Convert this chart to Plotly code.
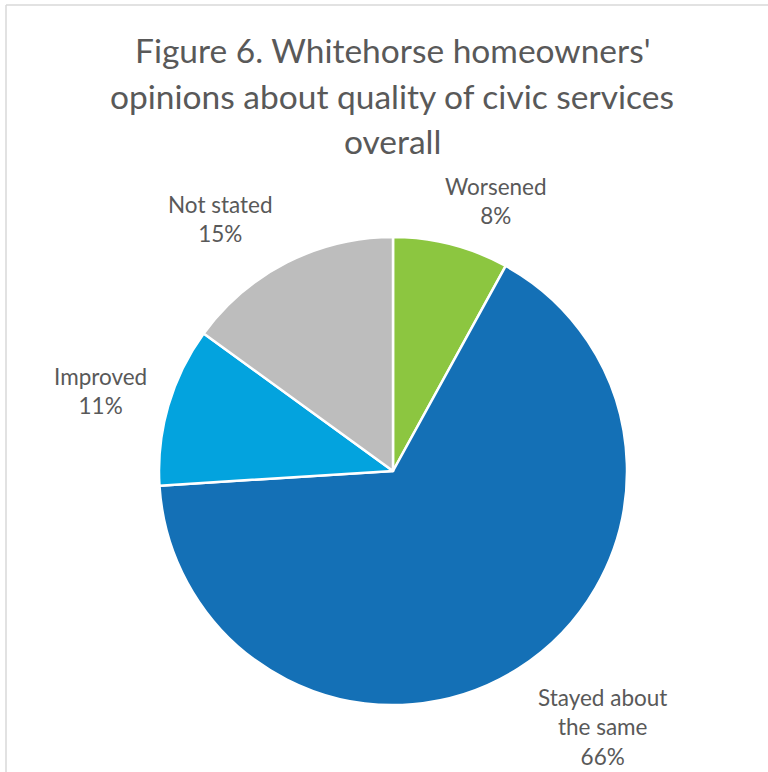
import math
import plotly.graph_objects as go

# ---- data ----
categories = ["Worsened", "Stayed about the same", "Improved", "Not stated"]
label_text = ["Worsened<br>8%", "Stayed about<br>the same<br>66%", "Improved<br>11%", "Not stated<br>15%"]
values = [8, 66, 11, 15]
colors = ["#8cc640", "#1470b6", "#03a3de", "#bdbdbd"]
title_lines = ["Figure 6. Whitehorse homeowners'",
               "opinions about quality of civic services",
               "overall"]

W, H = 768, 772
cx, cy, r = 393, 471, 234  # pie centre/radius in px (layout)

fig = go.Figure(go.Pie(
    labels=categories, values=values, sort=False, direction="clockwise",
    rotation=0, marker=dict(colors=colors, line=dict(color="white", width=2.5)),
    textinfo="none", hoverinfo="label+percent", showlegend=False,
    domain=dict(x=[(cx - r) / W, (cx + r) / W], y=[(H - cy - r) / H, (H - cy + r) / H]),
))

# label offsets (px) from outer edge midpoint of each slice
shifts = [(45, 43), (84, -58), (-68, 15), (-66, 44)]
total = sum(values)
cum = 0
annotations = []
for v, txt, (sx, sy) in zip(values, label_text, shifts):
    mid = (cum + v / 2) / total * 2 * math.pi
    cum += v
    px = cx + r * math.sin(mid)
    py = cy - r * math.cos(mid)
    annotations.append(dict(
        x=px / W, y=1 - py / H, xref="paper", yref="paper", text=txt,
        showarrow=False, xanchor="center", yanchor="middle", align="center",
        xshift=sx, yshift=sy,
        font=dict(family="Lato", size=22.5, color="#595959"),
    ))

title_y = [50, 96, 141]
for line, ty in zip(title_lines, title_y):
    annotations.append(dict(
        x=392 / W, y=1 - ty / H, xref="paper", yref="paper", text=line,
        showarrow=False, xanchor="center", yanchor="middle",
        font=dict(family="Lato", size=33.5, color="#595959"),
    ))

fig.update_layout(
    width=W, height=H, margin=dict(l=0, r=0, t=0, b=0),
    paper_bgcolor="white", plot_bgcolor="white",
    annotations=annotations,
    shapes=[
        dict(type="line", xref="paper", yref="paper", x0=6 / W, x1=1, y0=1 - 5 / H, y1=1 - 5 / H,
             line=dict(color="#d9d9d9", width=1.5)),
        dict(type="line", xref="paper", yref="paper", x0=6 / W, x1=6 / W, y0=0, y1=1 - 5 / H,
             line=dict(color="#d9d9d9", width=1.5)),
    ],
)

fig.write_html("out.html")
